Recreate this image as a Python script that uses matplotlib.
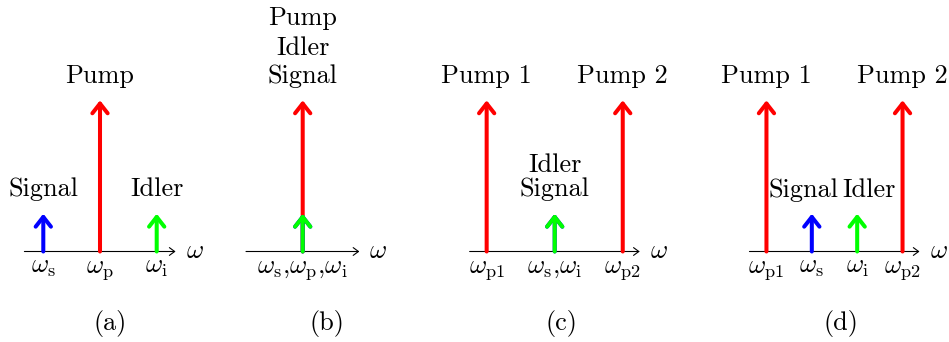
import matplotlib.pyplot as plt
from matplotlib.patches import FancyArrowPatch

plt.rcParams['font.family'] = ['cmr10', 'DejaVu Serif']
plt.rcParams['mathtext.fontset'] = 'cm'
plt.rcParams['axes.unicode_minus'] = False

# spectrum of each panel (frequency in arbitrary units, amplitude)
captions = ['(a)', '(b)', '(c)', '(d)']
pump_freqs = [[0.0], [0.0], [-1.8, 1.8], [-1.8, 1.8]]
pump_names = [['Pump'], ['Pump'], ['Pump 1', 'Pump 2'], ['Pump 1', 'Pump 2']]
signal_freq = [-1.5, 0.0, 0.0, -0.6]
idler_freq = [1.5, 0.0, 0.0, 0.6]
pump_amp = 4.0
weak_amp = 1.0
axis_half = [2.0, 1.5, 2.25, 2.25]
tick_freqs = [[-1.5, 0.0, 1.5], [0.0], [-1.8, 0.0, 1.8], [-1.8, -0.6, 0.6, 1.8]]
tick_labels = [
    [r'$\omega_\mathrm{s}$', r'$\omega_\mathrm{p}$', r'$\omega_\mathrm{i}$'],
    [r'$\omega_\mathrm{s}$,$\omega_\mathrm{p}$,$\omega_\mathrm{i}$'],
    [r'$\omega_\mathrm{p1}$', r'$\omega_\mathrm{s}$,$\omega_\mathrm{i}$', r'$\omega_\mathrm{p2}$'],
    [r'$\omega_\mathrm{p1}$', r'$\omega_\mathrm{s}$', r'$\omega_\mathrm{i}$', r'$\omega_\mathrm{p2}$'],
]

# layout (pixels of the 949x342 figure, 1 unit = 37.8 px)
W, H, unit = 949, 342, 37.8
centers = [100, 302.7, 554.7, 834.5]
caption_dx = [0.26, 0.64, 0.19, 0.17]
fs = 18.9
red, blue, green = '#ff0000', '#0000ff', '#00ff00'

fig = plt.figure(figsize=(W / 100, H / 100), dpi=100)


def spike(ax, x, h, color):
    arr = FancyArrowPatch((x, 0), (x, h), arrowstyle='->,head_length=7,head_width=5.5',
                          mutation_scale=1, lw=2.9, color=color, shrinkA=0, shrinkB=0,
                          joinstyle='round', clip_on=False)
    ax.add_patch(arr)


for k in range(4):
    half = 120
    ax = fig.add_axes([(centers[k] - half) / W, 0, 2 * half / W, 1])
    ax.set_xlim(-half / unit, half / unit)
    ax.set_ylim(-(H - 251.5) / unit, 251.5 / unit)
    ax.axis('off')

    # frequency axis
    a = axis_half[k]
    ax.add_patch(FancyArrowPatch((-a, 0), (a, 0), arrowstyle='->,head_length=3.8,head_width=2.8',
                                 mutation_scale=1, lw=0.8, color='black', shrinkA=0, shrinkB=0,
                                 clip_on=False))
    ax.text(a + 0.5, 0, r'$\omega$', fontsize=fs, ha='center', va='center')

    # spikes
    for f in pump_freqs[k]:
        spike(ax, f, pump_amp, red)
    spike(ax, signal_freq[k], weak_amp, blue)
    spike(ax, idler_freq[k], weak_amp, green)

    # tick labels
    for f, lab in zip(tick_freqs[k], tick_labels[k]):
        ax.text(f, -0.56, lab, fontsize=fs, ha='center', va='baseline')

    # names
    if k == 1:
        for y, name in zip([5.99, 5.19, 4.45], ['Pump', 'Idler', 'Signal']):
            ax.text(0, y, name, fontsize=fs, ha='center', va='baseline')
    else:
        for f, name in zip(pump_freqs[k], pump_names[k]):
            ax.text(f, 4.46, name, fontsize=fs, ha='center', va='baseline')
    if k == 0:
        ax.text(signal_freq[k], 1.47, 'Signal', fontsize=fs, ha='center', va='baseline')
        ax.text(idler_freq[k], 1.47, 'Idler', fontsize=fs, ha='center', va='baseline')
    elif k == 2:
        ax.text(0, 2.10, 'Idler', fontsize=fs, ha='center', va='baseline')
        ax.text(0, 1.47, 'Signal', fontsize=fs, ha='center', va='baseline')
    elif k == 3:
        ax.text(signal_freq[k] - 0.21, 1.45, 'Signal', fontsize=fs, ha='center', va='baseline')
        ax.text(idler_freq[k] + 0.32, 1.45, 'Idler', fontsize=fs, ha='center', va='baseline')

    ax.text(caption_dx[k], -2.08, captions[k], fontsize=fs, ha='center', va='baseline')

fig.savefig('out.png', dpi=100)
